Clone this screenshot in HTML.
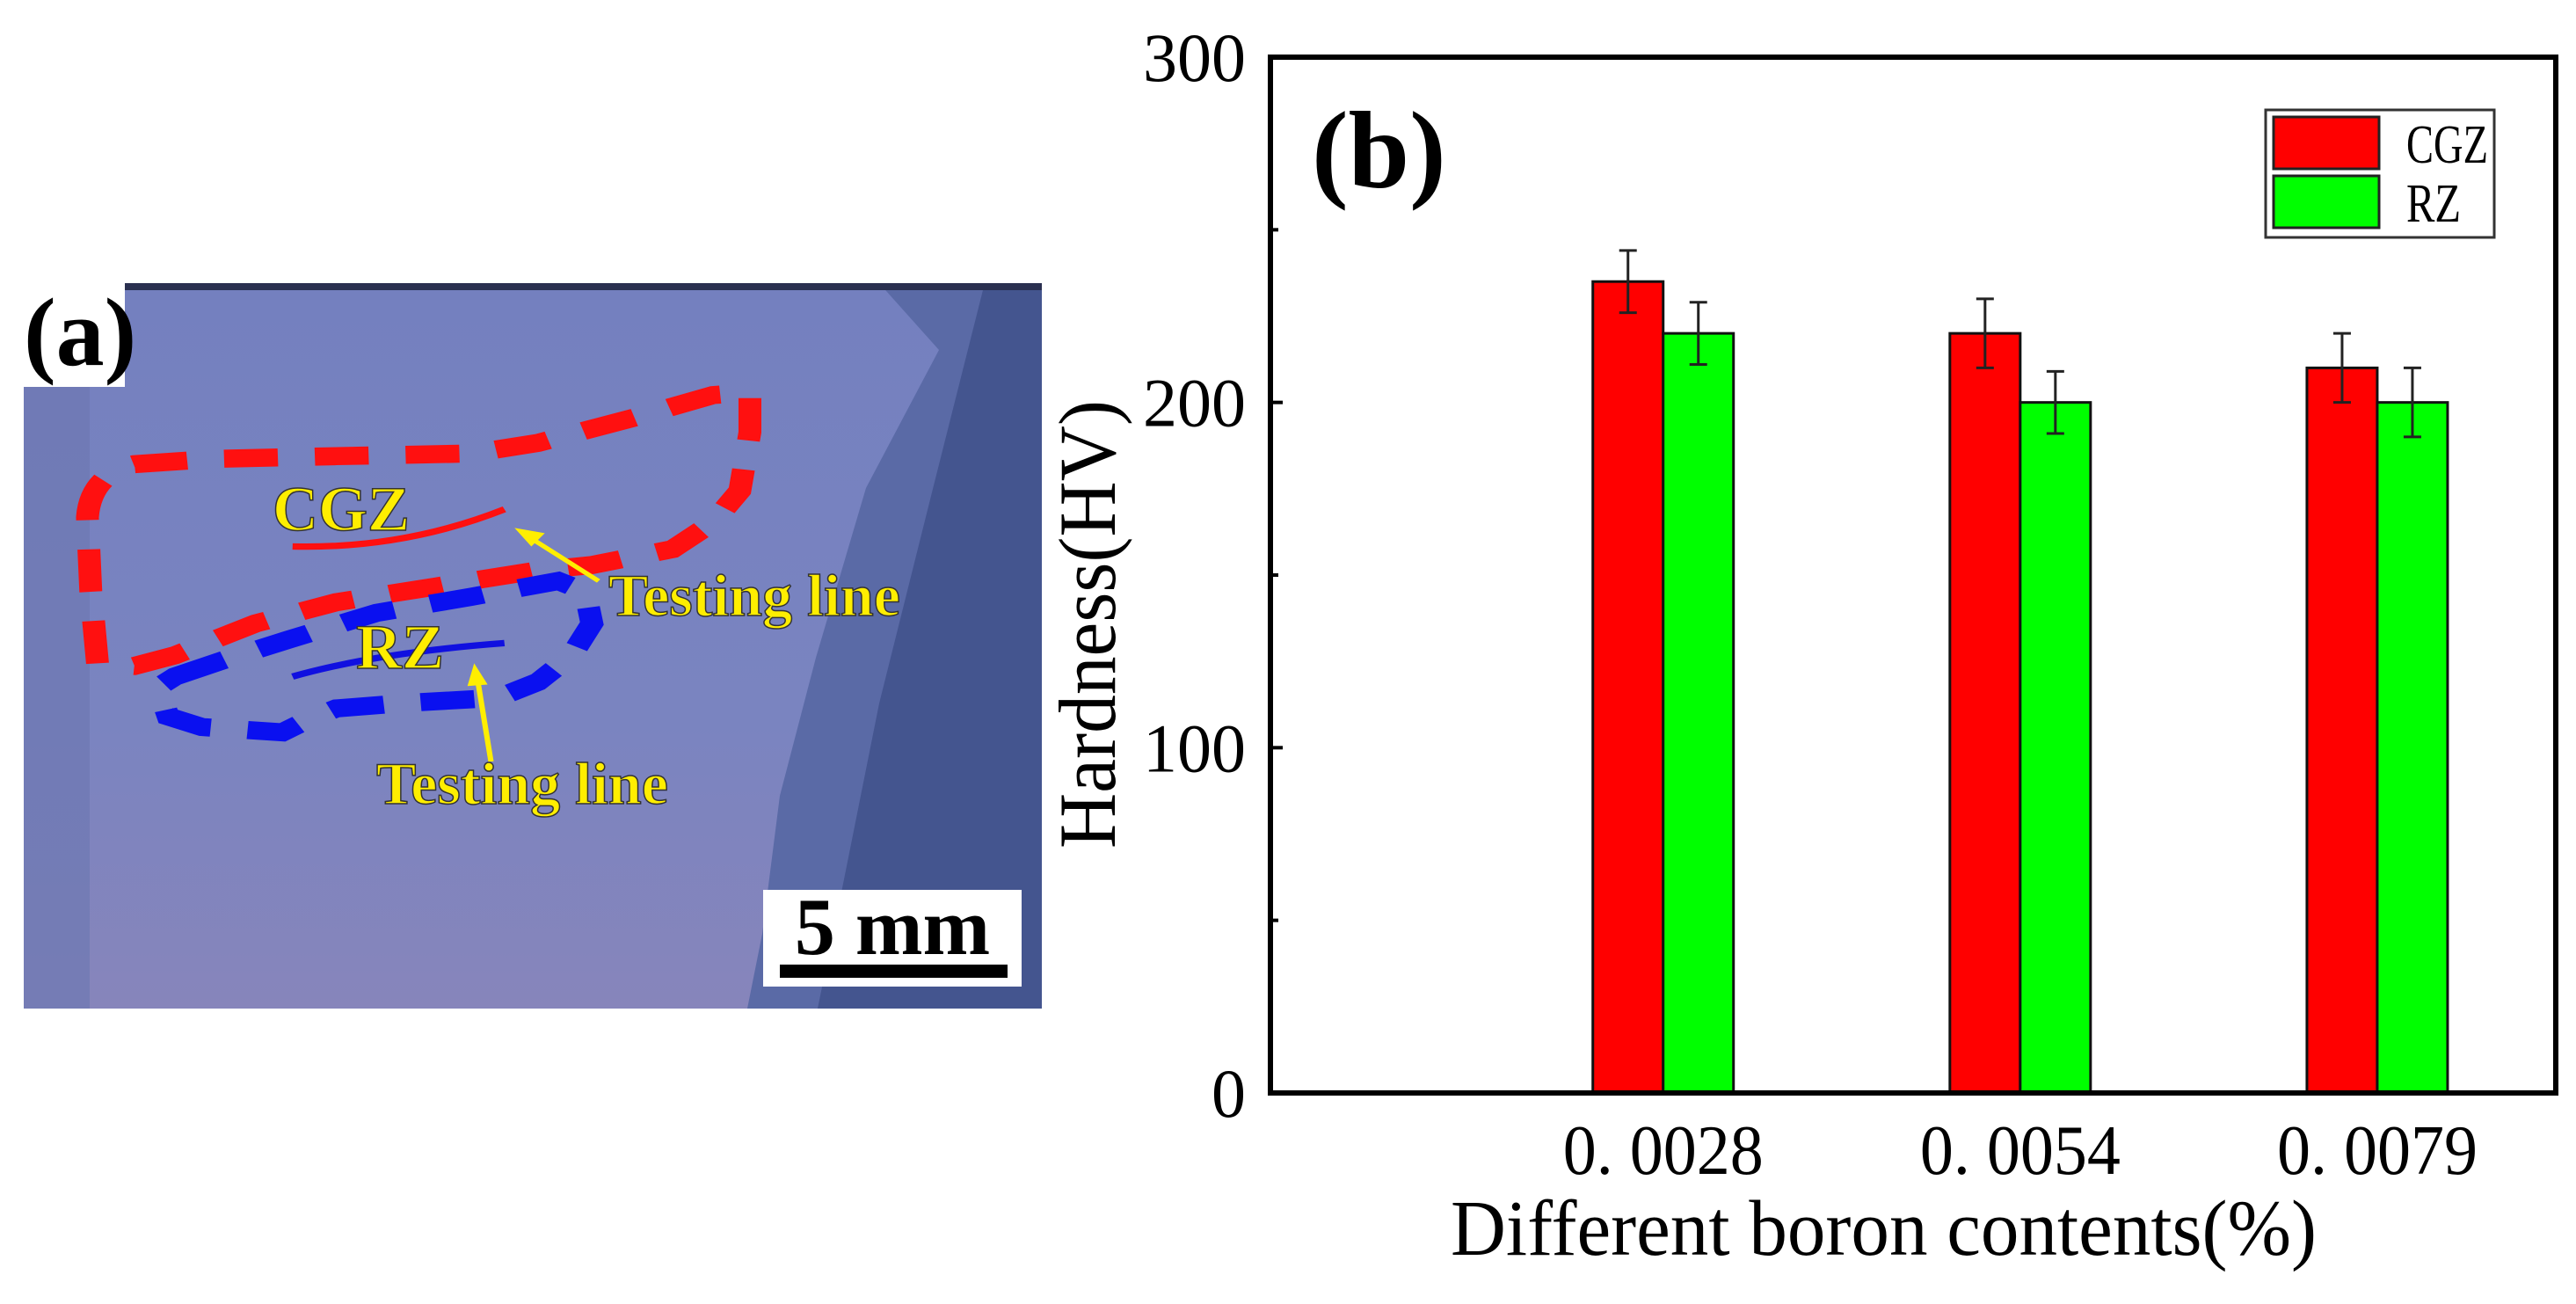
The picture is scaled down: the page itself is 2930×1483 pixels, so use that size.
<!DOCTYPE html>
<html><head><meta charset="utf-8"><style>
html,body{margin:0;padding:0;background:#fff;}
svg{display:block;}
text{font-family:"Liberation Serif",serif;}
</style></head><body>
<svg id="fig" width="2930" height="1483" viewBox="0 0 2930 1483" xmlns="http://www.w3.org/2000/svg">
<defs>
<linearGradient id="pg" x1="0" y1="0" x2="0" y2="1">
<stop offset="0" stop-color="#7480bf"/><stop offset="0.6" stop-color="#7a84c0"/><stop offset="1" stop-color="#8785bb"/>
</linearGradient>
</defs>
<g>
<rect x="27" y="322" width="1158" height="825" fill="url(#pg)"/>
<rect x="27" y="322" width="75" height="825" fill="#6d78b2" opacity="0.7"/>
<polygon points="1000,322 1068,398 985,555 928,748 887,905 867,1062 850,1147 1185,1147 1185,322" fill="#5a6aa6"/>
<polygon points="1120,322 1060,560 1000,800 960,1000 930,1147 1185,1147 1185,322" fill="#44558f"/>
<rect x="27" y="322" width="1158" height="8" fill="#2a3050"/>
<g transform="translate(0,250) scale(0.765,0.604)">
<path d="M145,835 L135,700 L130,560 Q135,480 200,460 L320,450 L500,445 L700,440 L800,420 L950,370 L1060,330 L1115,325 L1115,400 L1100,510 L1060,570 L1000,620 L880,650 L800,660 L650,690 L500,720 L380,760 L260,820 L200,840 Z" fill="none" stroke="#ff1010" stroke-width="34" stroke-dasharray="80,55"/>
<path d="M260,860 L330,830 L430,790 L560,740 L700,710 L830,680 L870,700 L880,760 L850,820 L800,870 L740,900 L600,910 L500,920 L460,940 L420,965 L300,955 L250,935 L235,880 Z" fill="none" stroke="#0a10f0" stroke-width="34" stroke-dasharray="80,55"/>
<path d="M435,615 Q600,620 750,545" fill="none" stroke="#ff1010" stroke-width="12"/>
<path d="M435,860 Q560,815 750,797" fill="none" stroke="#1010e0" stroke-width="12"/>
<line x1="890" y1="680" x2="790" y2="600" stroke="#ffee00" stroke-width="8"/>
<polygon points="765,580 810,590 790,615" fill="#ffee00"/>
<line x1="730" y1="1020" x2="710" y2="865" stroke="#ffee00" stroke-width="8"/>
<polygon points="705,835 725,875 695,878" fill="#ffee00"/>
</g>
<g font-weight="bold" fill="#ffee00" stroke="#333" stroke-width="1.5">
<text x="310" y="603" font-size="72">CGZ</text>
<text x="692" y="700" font-size="68">Testing line</text>
<text x="405" y="760" font-size="72">RZ</text>
<text x="428" y="914" font-size="68">Testing line</text>
</g>
<rect x="27" y="322" width="115" height="118" fill="#fff"/>
<text x="27" y="415" font-size="110" font-weight="bold">(a)</text>
<g>
<rect x="868" y="1012" width="294" height="110" fill="#fff"/>
<text x="1015" y="1085" font-size="92" font-weight="bold" text-anchor="middle">5 mm</text>
<rect x="887" y="1097" width="259" height="15" fill="#000"/>
</g>
</g>
<g id="chart"></g>
</svg>
<script>
const categories = ["0. 0028", "0. 0054", "0. 0079"];
const cgzValues = [235, 220, 210];
const cgzErrors = [9, 10, 10];
const rzValues = [220, 200, 200];
const rzErrors = [9, 9, 10];
const yTicks = [0, 100, 200, 300];
const yMinorTicks = [50, 150, 250];
const seriesNames = ["CGZ", "RZ"];

const NS = "http://www.w3.org/2000/svg";
const L = 1445, R = 2907, T = 65, B = 1243;
const yMax = 300;
function yScale(v){ return B - (v / yMax) * (B - T); }
const step = (R - L) / 3.6;
function xCenter(i){ return L + step * (i + 1.1); }
const barW = 80;
const chart = document.getElementById('chart');
function mk(tag, attrs, parent){
  const e = document.createElementNS(NS, tag);
  for (const k in attrs) e.setAttribute(k, attrs[k]);
  (parent || chart).appendChild(e);
  return e;
}
// bars
const series = [
  {vals: cgzValues, errs: cgzErrors, color: "#ff0000", off: -barW, name: "cgz"},
  {vals: rzValues, errs: rzErrors, color: "#00ff00", off: 0, name: "rz"}
];
series.forEach(s => {
  s.vals.forEach((v, i) => {
    const x = xCenter(i) + s.off;
    const r = mk('rect', {x: x, y: yScale(v), width: barW, height: B - yScale(v), fill: s.color, stroke: "#111", "stroke-width": 3});
    
    
    const cx = x + barW / 2;
    const g = mk('g', {stroke: "#222", "stroke-width": 3});
    
    
    mk('line', {x1: cx, x2: cx, y1: yScale(v + s.errs[i]), y2: yScale(v - s.errs[i])}, g);
    mk('line', {x1: cx - 10, x2: cx + 10, y1: yScale(v + s.errs[i]), y2: yScale(v + s.errs[i])}, g);
    mk('line', {x1: cx - 10, x2: cx + 10, y1: yScale(v - s.errs[i]), y2: yScale(v - s.errs[i])}, g);
  });
});
// frame
const frame = mk('rect', {x: L, y: T, width: R - L, height: B - T, fill: "none", stroke: "#000", "stroke-width": 6});


// y ticks
yTicks.forEach(v => {
  const y = yScale(v);
  mk('line', {x1: L, x2: L + 14, y1: y, y2: y, stroke: "#000", "stroke-width": 4});
  const t = mk('text', {x: 1417, y: y + 27, "font-size": 78, "text-anchor": "end"});
  t.textContent = v;
  
  
});
yMinorTicks.forEach(v => {
  const y = yScale(v);
  mk('line', {x1: L, x2: L + 9, y1: y, y2: y, stroke: "#000", "stroke-width": 4});
});
// x labels
categories.forEach((c, i) => {
  const t = mk('text', {x: xCenter(i), y: 1335, "font-size": 80, "text-anchor": "middle", textLength: 228, lengthAdjust: "spacingAndGlyphs"});
  t.textContent = c;
  
  
});
// titles
const xt = mk('text', {x: 1650, y: 1427, "font-size": 90, textLength: 985, lengthAdjust: "spacingAndGlyphs"});
xt.textContent = "Different boron contents(%)";


const yt = mk('text', {x: 0, y: 0, "font-size": 92, "text-anchor": "middle", textLength: 510, lengthAdjust: "spacingAndGlyphs", transform: "translate(1268,710) rotate(-90)"});
yt.textContent = "Hardness(HV)";


const pb = mk('text', {x: 1492, y: 213, "font-size": 125, "font-weight": "bold"});
pb.textContent = "(b)";


// legend
const lg = mk('g', {});


mk('rect', {x: 2577, y: 125, width: 260, height: 145, fill: "#fff", stroke: "#333", "stroke-width": 3}, lg);
seriesNames.forEach((n, i) => {
  const e = mk('g', {}, lg);
  
  
  mk('rect', {x: 2586, y: 133 + i * 67, width: 120, height: 59, fill: series[i].color, stroke: "#222", "stroke-width": 3}, e);
  const t = mk('text', {x: 2737, y: 185 + i * 67, "font-size": 62, textLength: n.length * 31, lengthAdjust: "spacingAndGlyphs"}, e);
  t.textContent = n;
});
</script>
</body></html>
